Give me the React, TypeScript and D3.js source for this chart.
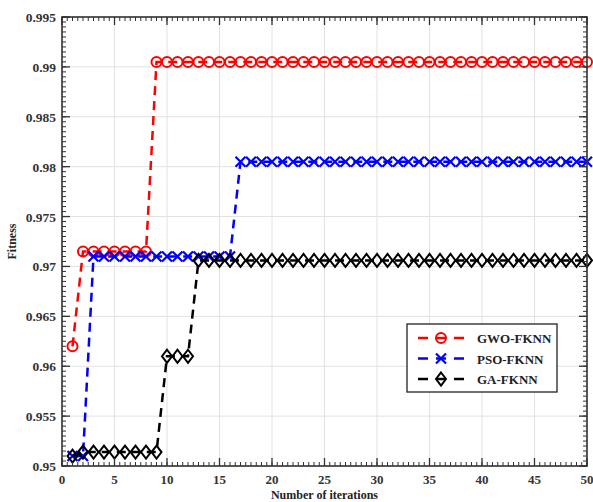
import React from "react";
import * as d3 from "d3";

const iterations = d3.range(1, 51);
const gwo = [0.962, ...Array(7).fill(0.9715), ...Array(42).fill(0.9905)];
const pso = [0.951, 0.951, ...Array(14).fill(0.971), ...Array(34).fill(0.9805)];
const ga = [0.951, ...Array(8).fill(0.9514), 0.961, 0.961, 0.961, ...Array(38).fill(0.9706)];

const xTicks = [0, 5, 10, 15, 20, 25, 30, 35, 40, 45, 50];
const yTicks = [0.95, 0.955, 0.96, 0.965, 0.97, 0.975, 0.98, 0.985, 0.99, 0.995];

const seriesList = [
  { name: "GWO-FKNN", values: gwo, color: "#ff0000", marker: "circle" },
  { name: "PSO-FKNN", values: pso, color: "#0000ff", marker: "x" },
  { name: "GA-FKNN", values: ga, color: "#000000", marker: "diamond" },
];

const W = 593;
const H = 502;
const margin = { top: 17, right: 6, bottom: 36, left: 62 };
const font = "'Liberation Serif', 'Times New Roman', serif";

const Marker: React.FC<{ kind: string; x: number; y: number; color: string; s?: number }> = ({ kind, x, y, color, s = 5 }) => {
  if (kind === "circle")
    return <circle cx={x} cy={y} r={s} fill="none" stroke={color} strokeWidth={2} />;
  if (kind === "x")
    return (
      <path
        d={`M${x - s},${y - s}L${x + s},${y + s}M${x - s},${y + s}L${x + s},${y - s}`}
        stroke={color}
        strokeWidth={2.2}
        fill="none"
      />
    );
  return (
    <path
      d={`M${x},${y - s - 1.5}L${x + s},${y}L${x},${y + s + 1.5}L${x - s},${y}Z`}
      stroke={color}
      strokeWidth={2}
      fill="none"
    />
  );
};

export default function App() {
  const iw = W - margin.left - margin.right;
  const ih = H - margin.top - margin.bottom;
  const x = d3.scaleLinear().domain([0, 50]).range([0, iw]);
  const y = d3.scaleLinear().domain([0.95, 0.995]).range([ih, 0]);

  const line = d3
    .line<number>()
    .x((_, i) => x(iterations[i]))
    .y((d) => y(d));

  const xMinor = d3.range(0, 50.01, 0.5);
  const yMinor = d3.range(0, 91).map((i) => 0.95 + i * 0.0005);
  const axisColor = "#333";

  const lg = { x: 407 - margin.left, y: 324 - margin.top, w: 150, h: 68 };

  return (
    <svg width={W} height={H} style={{ position: "absolute", left: 0, top: 0, background: "#fff" }}>
      <g transform={`translate(${margin.left},${margin.top})`}>
        {/* grid */}
        {xTicks.map((t) => (
          <line key={"gx" + t} x1={x(t)} x2={x(t)} y1={0} y2={ih} stroke="#e2e2e2" strokeWidth={1} />
        ))}
        {yTicks.map((t) => (
          <line key={"gy" + t} x1={0} x2={iw} y1={y(t)} y2={y(t)} stroke="#e2e2e2" strokeWidth={1} />
        ))}

        {/* series */}
        {seriesList.map((s) => (
          <g key={s.name}>
            <path d={line(s.values) || ""} fill="none" stroke={s.color} strokeWidth={2.5} strokeDasharray="9,6" />
            {s.values.map((v, i) => (
              <Marker key={i} kind={s.marker} x={x(iterations[i])} y={y(v)} color={s.color} />
            ))}
          </g>
        ))}

        {/* minor ticks */}
        {xMinor.map((t, i) => (
          <g key={"xm" + i} stroke={axisColor} strokeWidth={1}>
            <line x1={x(t)} x2={x(t)} y1={ih} y2={ih - 4} />
            <line x1={x(t)} x2={x(t)} y1={0} y2={4} />
          </g>
        ))}
        {yMinor.map((t, i) => (
          <g key={"ym" + i} stroke={axisColor} strokeWidth={1}>
            <line x1={0} x2={4} y1={y(t)} y2={y(t)} />
            <line x1={iw} x2={iw - 4} y1={y(t)} y2={y(t)} />
          </g>
        ))}
        {/* major ticks */}
        {xTicks.map((t) => (
          <g key={"xM" + t} stroke={axisColor} strokeWidth={1.3}>
            <line x1={x(t)} x2={x(t)} y1={ih} y2={ih - 8} />
            <line x1={x(t)} x2={x(t)} y1={0} y2={8} />
          </g>
        ))}
        {yTicks.map((t) => (
          <g key={"yM" + t} stroke={axisColor} strokeWidth={1.3}>
            <line x1={0} x2={8} y1={y(t)} y2={y(t)} />
            <line x1={iw} x2={iw - 8} y1={y(t)} y2={y(t)} />
          </g>
        ))}
        <rect x={0} y={0} width={iw} height={ih} fill="none" stroke={axisColor} strokeWidth={1.6} />

        {/* tick labels */}
        {xTicks.map((t) => (
          <text key={"xl" + t} x={x(t)} y={ih + 18} textAnchor="middle" fontFamily={font} fontWeight="bold" fontSize={13} fill="#333">
            {t}
          </text>
        ))}
        {yTicks.map((t) => (
          <text key={"yl" + t} x={-6} y={y(t) + 5} textAnchor="end" fontFamily={font} fontWeight="bold" fontSize={13.5} fill="#333">
            {d3.format("")(+t.toFixed(3))}
          </text>
        ))}

        {/* axis titles */}
        <text x={iw / 2} y={ih + 33} textAnchor="middle" fontFamily={font} fontWeight="bold" fontSize={12} fill="#222">
          Number of iterations
        </text>
        <text transform={`translate(${-46},${ih / 2}) rotate(-90)`} textAnchor="middle" fontFamily={font} fontWeight="bold" fontSize={12} fill="#222">
          Fitness
        </text>

        {/* legend */}
        <g transform={`translate(${lg.x},${lg.y})`}>
          <rect x={0} y={0} width={lg.w} height={lg.h} fill="#fff" stroke="#222" strokeWidth={1.3} />
          {seriesList.map((s, i) => {
            const ly = 14 + i * 20.5;
            return (
              <g key={"lg" + s.name}>
                <line x1={11} x2={21} y1={ly} y2={ly} stroke={s.color} strokeWidth={2.5} />
                <line x1={29} x2={39} y1={ly} y2={ly} stroke={s.color} strokeWidth={2.5} />
                <line x1={47} x2={57} y1={ly} y2={ly} stroke={s.color} strokeWidth={2.5} />
                <Marker kind={s.marker} x={34} y={ly} color={s.color} />
                <text x={70} y={ly + 5} fontFamily={font} fontWeight="bold" fontSize={13} fill="#222">
                  {s.name}
                </text>
              </g>
            );
          })}
        </g>
      </g>
    </svg>
  );
}
